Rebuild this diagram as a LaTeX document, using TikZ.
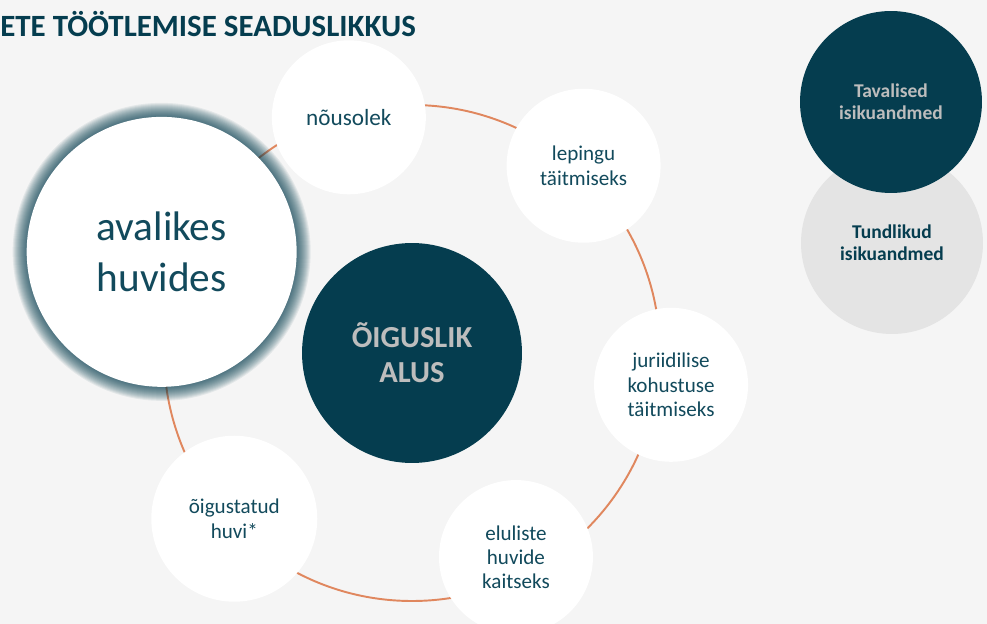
\documentclass[tikz,border=0pt]{standalone}
\usepackage{fontspec}
\setmainfont{Carlito}
\usepackage{tikz}
\pgfdeclarelayer{background}
\pgfdeclarelayer{foreground}
\pgfsetlayers{background,main,foreground}
\definecolor{petrol}{HTML}{053D4F}
\definecolor{petroltext}{HTML}{124A5C}
\definecolor{ringorange}{HTML}{E0875E}
\definecolor{pagegray}{HTML}{F5F5F5}
\definecolor{softgray}{HTML}{E4E4E4}
\definecolor{labelgray}{HTML}{BDBDBD}

\begin{document}
\begin{tikzpicture}[x=0.02cm,y=0.02cm,
  basis/.style={circle,fill=white,inner sep=0pt,minimum size=3.08cm,text=petroltext,align=center,font=\fontsize{12}{13.7}\selectfont},
  kind/.style={circle,inner sep=0pt,minimum size=3.64cm,align=center,font=\bfseries\fontsize{11.1}{12.5}\selectfont}]
\useasboundingbox (0,0) rectangle (987,-624);
\clip (0,0) rectangle (987,-624);
\begin{pgfonlayer}{background}
\fill[pagegray] (0,0) rectangle (987,-624);
\end{pgfonlayer}
\node[anchor=base west,inner sep=0pt,text=petrol,font=\bfseries\fontsize{17.6}{20}\selectfont] (title) at (0,-37) {ETE TÖÖTLEMISE SEADUSLIKKUS};
\begin{scope}[shift={(412,-353)}]
\begin{pgfonlayer}{background}
\draw[ringorange,line width=1.1pt] (0,0) circle (248);
% glow round the big circle
\foreach \k in {1,...,15}
  \fill[petrol,opacity=0.075] (158:270) circle ({150-\k});
\end{pgfonlayer}
\node[circle,fill=petrol,inner sep=0pt,minimum size=4.4cm,text=labelgray,align=center,font=\bfseries\fontsize{17.4}{20}\selectfont] (alus) at (0,0) {ÕIGUSLIK\\ALUS};
\node[basis,font=\fontsize{13.2}{15}\selectfont] (nousolek) at (105:244) {nõusolek};
\node[basis] (leping) at (47.5:254) {lepingu\\täitmiseks};
\node[basis] (kohustus) at (-7:261) {juriidilise\\kohustuse\\täitmiseks};
\node[basis] (elulised) at (-63:229) {eluliste\\huvide\\kaitseks};
\node[basis,minimum size=3.32cm] (huvi) at (223:243) {õigustatud\\huvi*};
\node[basis,minimum size=5.4cm,font=\fontsize{23.5}{28.5}\selectfont] (avalik) at (158:270) {avalikes\\huvides};
\end{scope}
\node[kind,fill=softgray,text=petrol] (tundlik) at (892,-243) {Tundlikud\\isikuandmed};
\node[kind,fill=petrol,text=labelgray] (tavaline) at (891,-102) {Tavalised\\isikuandmed};
\end{tikzpicture}
\end{document}
